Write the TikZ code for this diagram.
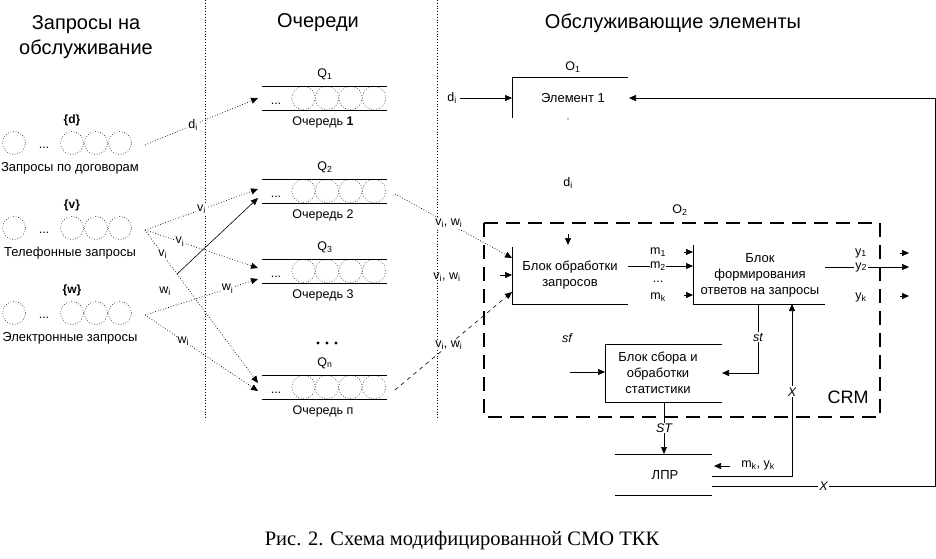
\documentclass[tikz,border=0pt]{standalone}
\usepackage{fontspec}
\setmainfont{Liberation Sans}
\newfontfamily\capfont{Liberation Serif}
\usetikzlibrary{arrows.meta}
\newcommand\sbi[1]{#1\textsubscript{i}}
\newcommand\ReqGroup[4]{%
  \node[circ] (#1c0) at (14,#2) {};
  \node[lbl] (#1dots) at (44,#2+5) {...};
  \node[circ] (#1c1) at (72,#2) {};
  \node[circ] (#1c2) at (96,#2) {};
  \node[circ] (#1c3) at (120,#2) {};
  \node[lbl,font=\fontsize{12}{13}\selectfont\bfseries] (#1set) at (72,#2-23) {\{#3\}};
  \node[lbl,font=\fontsize{13}{14}\selectfont] (#1lab) at (70,#2+25) {#4};
  \coordinate (#1out) at (145,#2+2);
}
\newcommand\Queue[4]{%
  \draw (262,#2) -- (387,#2);
  \draw (262,#2+24) -- (387,#2+24);
  \node[qcirc] (#1a) at (303.5,#2+12) {};
  \node[qcirc] (#1b) at (327,#2+12) {};
  \node[qcirc] (#1c) at (350.5,#2+12) {};
  \node[qcirc] (#1d) at (374,#2+12) {};
  \node[lbl] (#1dots) at (276,#2+18) {...};
  \node[lbl] (#1q) at (325,#2-12) {#3};
  \node[lbl] (#1name) at (323,#2+36) {#4};
  \coordinate (#1out) at (395,#2+15);
}
\tikzset{
  arr/.style={-{Triangle[length=7pt,width=6pt]}},
  dotl/.style={dotted, line width=0.7pt},
  dashl/.style={dash pattern=on 4pt off 4pt, line width=0.6pt},
  lbl/.style={font=\fontsize{12.5}{14}\selectfont, inner sep=1pt},
  wl/.style={lbl, fill=white},
  itl/.style={wl, font=\fontsize{12.5}{14}\selectfont\itshape},
  blk/.style={font=\fontsize{13}{16}\selectfont, align=center, inner sep=0pt},
  head/.style={font=\fontsize{20}{25}\selectfont, align=center, inner sep=0pt},
  circ/.style={circle, draw, dotted, minimum size=23pt, inner sep=0pt},
  qcirc/.style={circle, draw, dotted, minimum size=23.4pt, inner sep=0pt},
  sepl/.style={dotted, line width=0.8pt},
  crm/.style={line width=2.2pt, dash pattern=on 14pt off 8pt},
}
\begin{document}
\begin{tikzpicture}[x=1pt,y=-1pt,line width=0.6pt]
\useasboundingbox (0,0) rectangle (936,558);
% separators
\coordinate (s1t) at (205,0); \coordinate (s1b) at (205,420);
\coordinate (s2t) at (437,0); \coordinate (s2b) at (437,420);
\draw[sepl] (s1t) -- (s1b);
\draw[sepl] (s2t) -- (s2b);
% headers
\node[head] (h1) at (86,37) {Запросы на\\обслуживание};
\node[head] (h2) at (318,23) {Очереди};
\node[head] (h3) at (673,23) {Обслуживающие элементы};
% request groups
\ReqGroup{d}{143}{d}{Запросы по договорам}
\ReqGroup{v}{228}{v}{Телефонные запросы}
\ReqGroup{w}{313}{w}{Электронные запросы}
% queues
\Queue{qa}{86}{Q\textsubscript{1}}{Очередь \textbf{1}}
\Queue{qb}{179}{Q\textsubscript{2}}{Очередь 2}
\Queue{qc}{259}{Q\textsubscript{3}}{Очередь 3}
\Queue{qn}{375}{Q\textsubscript{n}}{Очередь п}
\fill (318,343) circle (1.6) (327,343) circle (1.6) (336,343) circle (1.6);
% queue inputs
\coordinate (qain) at (258,98);
\coordinate (qbin1) at (258,189);
\coordinate (qbin2) at (258,198);
\coordinate (qcin1) at (258,268);
\coordinate (qcin2) at (258,279);
\coordinate (qnin1) at (258,383);
\coordinate (qnin2) at (258,391);
\coordinate (pt) at (177,274);
\draw[dotl,arr] (dout) -- node[wl,pos=0.425] {\sbi{d}} (qain);
\draw[dotl,arr] (vout) -- node[wl,pos=0.5] {\sbi{v}} (qbin1);
\draw[dotl,arr] (vout) -- node[wl,pos=0.31] {\sbi{v}} (qcin1);
\draw[dotl] (vout) -- node[wl,pos=0.55] {\sbi{v}} (pt);
\draw[dotl,arr] (pt) -- (qnin1);
\draw[arr] (pt) -- (qbin2);
\draw[dotl,arr] (wout) -- node[wl,pos=0.73] {\sbi{w}} (qcin2);
\draw[dotl,arr] (wout) -- node[wl,pos=0.34] {\sbi{w}} (qnin2);
\node[lbl] (wstray) at (165,291) {\sbi{w}};
% CRM frame
\coordinate (crmA) at (484,223); \coordinate (crmB) at (880,417);
\draw[crm] (crmA) rectangle (crmB);
\node[font=\fontsize{18}{20}\selectfont] (crmlab) at (848,397) {CRM};
\node[lbl] (o2) at (680,210) {O\textsubscript{2}};
% Element 1
\draw (628,77) -- (512,77) -- (512,118);
\node[blk] (el1) at (573,98) {Элемент 1};
\node[lbl] (o1) at (573,67) {O\textsubscript{1}};
\coordinate (el1in) at (512,98);
\coordinate (el1inR) at (629,98);
\coordinate (dinS) at (460,98);
\node[lbl] (dinlab) at (452,98) {\sbi{d}};
\draw[arr] (dinS) -- (el1in);
\fill (568,119) circle (0.6);
\node[lbl] (dstray) at (568,183) {\sbi{d}};
% Block processing
\draw (512,247) -- (512,304) -- (628,304);
\node[blk] (b1) at (570,275) {Блок обработки\\запросов};
\coordinate (b1in1) at (512,258);
\coordinate (b1in2) at (512,275);
\coordinate (b1in3) at (512,292);
\coordinate (b1mid) at (500,275);
\draw[dotl,arr] (qbout) -- node[wl,pos=0.46] {\sbi{v}, \sbi{w}} (b1in1);
\node[lbl] (vwmid) at (447,277) {\sbi{v}, \sbi{w}};
\draw[arr] (b1mid) -- (b1in2);
\draw[dashl,arr] (qnout) -- node[wl,pos=0.46] {\sbi{v}, \sbi{w}} (b1in3);
\coordinate (b1topS) at (568,234); \coordinate (b1topE) at (568,245);
\draw[arr] (b1topS) -- (b1topE);
% m signals
\coordinate (m2s) at (628,266); \coordinate (m2e) at (693,266);
\draw[arr] (m2s) -- node[wl,pos=0.46,inner sep=0.5pt] {m\textsubscript{2}} (m2e);
\node[lbl] (m1) at (658,252) {m\textsubscript{1}};
\node[lbl,inner sep=0pt] (mdots) at (658,282) {...};
\node[lbl] (mk) at (658,297) {m\textsubscript{k}};
\coordinate (m1s) at (684,252); \coordinate (m1e) at (693,252);
\coordinate (mks) at (684,295); \coordinate (mke) at (693,295);
\draw[arr] (m1s) -- (m1e);
\draw[arr] (mks) -- (mke);
% Block forming
\draw (693,245) -- (693,304) -- (825,304);
\node[blk] (b2) at (760,275) {Блок\\формирования\\ответов на запросы};
\coordinate (y2s) at (825,267); \coordinate (y2e) at (909,267);
\draw[arr] (y2s) -- node[wl,pos=0.43] {y\textsubscript{2}} (y2e);
\node[lbl] (y1) at (861,253) {y\textsubscript{1}};
\node[lbl] (yk) at (861,297) {y\textsubscript{k}};
\coordinate (y1s) at (900,253); \coordinate (y1e) at (909,253);
\coordinate (yks) at (900,296); \coordinate (yke) at (909,296);
\draw[arr] (y1s) -- (y1e);
\draw[arr] (yks) -- (yke);
% Block statistics
\draw (722,344) -- (605,344) -- (605,402) -- (722,402);
\node[blk] (b3) at (658,373) {Блок сбора и\\обработки\\статистики};
\coordinate (sfs) at (570,372); \coordinate (sfe) at (605,372);
\draw[arr] (sfs) -- (sfe);
\node[lbl,font=\fontsize{12.5}{14}\selectfont\itshape] (sflab) at (567,338) {sf};
\coordinate (sts) at (758,304); \coordinate (stc) at (758,373); \coordinate (ste) at (722,373);
\draw[arr] (sts) -- node[itl,pos=0.48] {st} (stc) -- (ste);
% LPR
\draw (615,454) -- (712,454);
\draw (615,495) -- (712,495);
\node[blk] (lpr) at (665,475) {ЛПР};
\coordinate (STs) at (664,402); \coordinate (STe) at (664,454);
\draw[arr] (STs) -- node[itl] {ST} (STe);
\coordinate (mkys) at (730,466); \coordinate (mkye) at (714,466);
\draw[arr] (mkys) -- (mkye);
\node[lbl] (mkylab) at (758,465) {m\textsubscript{k}, y\textsubscript{k}};
\coordinate (x1s) at (712,476); \coordinate (x1c) at (792,476); \coordinate (x1e) at (792,304);
\draw[arr] (x1s) -- (x1c) -- node[itl,pos=0.49] {X} (x1e);
\coordinate (x2s) at (712,486); \coordinate (x2c1) at (935,486); \coordinate (x2c2) at (935,98);
\draw[arr] (x2s) -- node[itl,pos=0.5] {X} (x2c1) -- (x2c2) -- (el1inR);
% caption
\node[font=\capfont\fontsize{20.5}{24}\selectfont] (cap) at (462,541) {Рис. 2. Схема модифицированной СМО ТКК};
\end{tikzpicture}
\end{document}
